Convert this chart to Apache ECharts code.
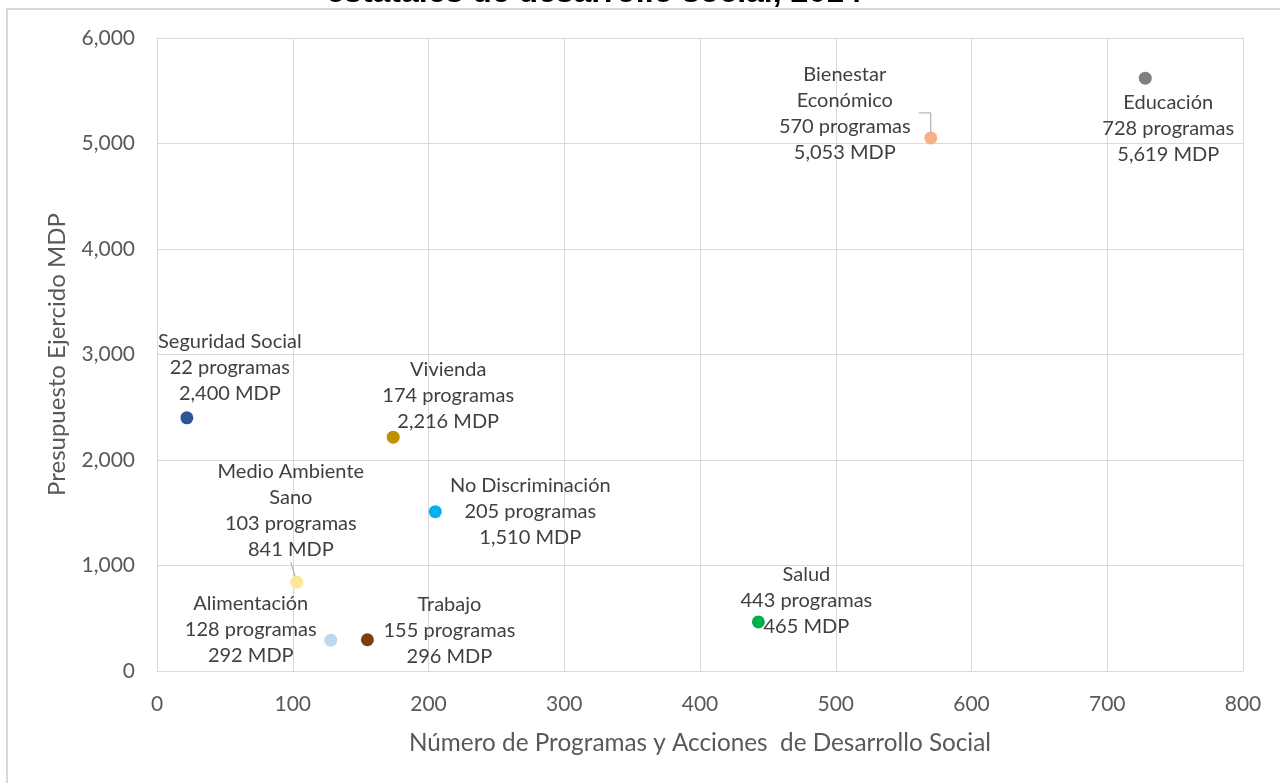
<!DOCTYPE html>
<html>
<head>
<meta charset="utf-8">
<title>Programas y presupuesto de desarrollo social</title>
<script src="https://cdn.jsdelivr.net/npm/echarts@6/dist/echarts.min.js"></script>
<style>
  html, body { margin: 0; padding: 0; background: #fff; }
  #chart { width: 1280px; height: 783px; }
</style>
</head>
<body>
<div id="chart"></div>
<script>
// datos: programas y presupuesto ejercido (MDP) por derecho social
const categorias = ['Seguridad Social', 'Vivienda', 'No Discriminación', 'Medio Ambiente Sano',
  'Alimentación', 'Trabajo', 'Salud', 'Bienestar Económico', 'Educación']
const etiquetas = ['Seguridad Social', 'Vivienda', 'No Discriminación', 'Medio Ambiente\nSano',
  'Alimentación', 'Trabajo', 'Salud', 'Bienestar\nEconómico', 'Educación']
const programas = [22, 174, 205, 103, 128, 155, 443, 570, 728]
const presupuesto = [2400, 2216, 1510, 841, 292, 296, 465, 5053, 5619]
const xTicks = [0, 800, 100]
const yTicks = [0, 6000, 1000]

// estilo
const colores = ['#2F5597', '#BF9000', '#00B0F0', '#FFE699', '#BDD7EE', '#843C0C', '#00B050', '#F4B183', '#7F7F7F']
// desplazamiento de cada etiqueta respecto a su punto (px)
const desplaza = [[43, -50], [55, -42], [95, 0], [-6, -72], [-80, -11], [82, -9], [48, -21], [-86, -24], [23, 50]]

const fuente = 'Lato'
const guia = { color: '#a6a6a6', width: 1 }
const fmt = v => v.toLocaleString('en-US')

const chart = echarts.init(document.getElementById('chart'))

const puntos = categorias.map((c, i) => ({
  name: c,
  value: [programas[i], presupuesto[i]],
  itemStyle: { color: colores[i], opacity: 1 },
  labelLine: { show: c === 'Medio Ambiente Sano' }
}))

chart.setOption({
  backgroundColor: '#fff',
  animation: false,
  textStyle: { fontFamily: fuente },
  graphic: [
    {
      id: 'marco',
      type: 'rect',
      silent: true,
      shape: { x: 7, y: 9, width: 1320, height: 820 },
      style: { fill: 'none', stroke: '#d9d9d9', lineWidth: 2 }
    },
    {
      id: 'titulo',
      type: 'text',
      silent: true,
      x: 594,
      y: -7,
      style: {
        text: 'estatales de desarrollo social, 2014',
        font: 'bold 32px "Liberation Sans", Arial, sans-serif',
        fill: '#000',
        align: 'center',
        verticalAlign: 'middle'
      }
    }
  ],
  grid: {
    left: 157,
    right: 37,
    top: 38,
    bottom: 112
  },
  xAxis: {
    type: 'value',
    min: xTicks[0],
    max: xTicks[1],
    interval: xTicks[2],
    name: 'Número de Programas y Acciones  de Desarrollo Social',
    nameLocation: 'middle',
    nameGap: 60,
    nameTextStyle: { color: '#595959', fontSize: 24.3, fontFamily: fuente },
    axisLine: { show: true, lineStyle: { color: '#d9d9d9', width: 1 } },
    axisTick: { show: false },
    axisLabel: { color: '#595959', fontSize: 21, margin: 23, fontFamily: fuente },
    splitLine: { show: true, lineStyle: { color: '#d9d9d9', width: 1 } }
  },
  yAxis: {
    type: 'value',
    min: yTicks[0],
    max: yTicks[1],
    interval: yTicks[2],
    name: 'Presupuesto Ejercido MDP',
    nameLocation: 'middle',
    nameGap: 88,
    nameTextStyle: { color: '#595959', fontSize: 24, fontFamily: fuente },
    axisLine: { show: false },
    axisTick: { show: false },
    axisLabel: { color: '#595959', fontSize: 21, margin: 22, fontFamily: fuente, formatter: v => fmt(v) },
    splitLine: { show: true, lineStyle: { color: '#d9d9d9', width: 1 } }
  },
  series: [{
    type: 'scatter',
    symbol: 'circle',
    symbolSize: 13,
    data: puntos,
    label: {
      show: true,
      position: 'inside',
      align: 'center',
      verticalAlign: 'middle',
      color: '#404040',
      fontSize: 20,
      lineHeight: 26,
      fontFamily: fuente,
      formatter(p) {
        const i = p.dataIndex
        return etiquetas[i] + '\n' + programas[i] + ' programas\n' + fmt(presupuesto[i]) + ' MDP'
      }
    },
    labelLine: {
      show: false,
      lineStyle: guia
    },
    labelLayout(p) {
      const d = desplaza[p.dataIndex]
      return { dx: d[0], dy: d[1] }
    }
  }]
})

// línea guía en codo para Bienestar Económico
const ib = categorias.indexOf('Bienestar Económico')
const pb = chart.convertToPixel({ xAxisIndex: 0, yAxisIndex: 0 }, [programas[ib], presupuesto[ib]])
chart.setOption({
  graphic: [{
    id: 'guia-bienestar',
    type: 'polyline',
    silent: true,
    z: 10,
    shape: { points: [[pb[0] - 12, pb[1] - 25], [pb[0], pb[1] - 25], [pb[0], pb[1] - 5]] },
    style: { stroke: guia.color, lineWidth: guia.width, fill: null }
  }]
})
</script>
</body>
</html>
